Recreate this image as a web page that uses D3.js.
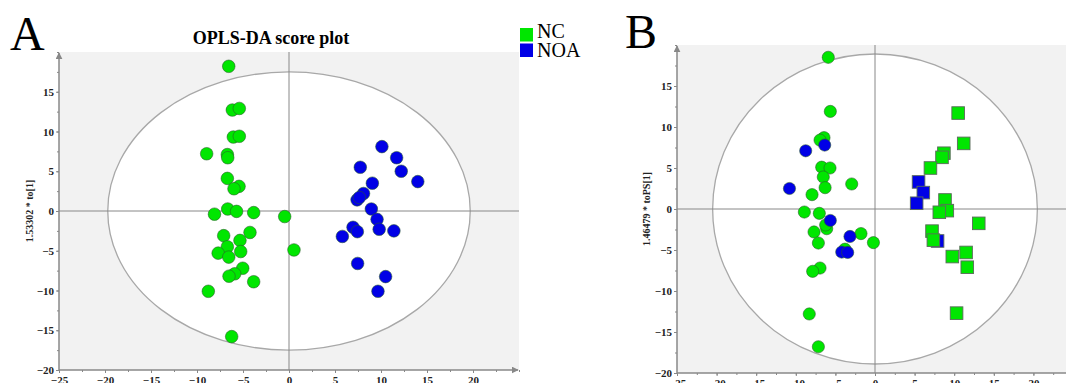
<!DOCTYPE html>
<html>
<head>
<meta charset="utf-8">
<script src="https://cdn.jsdelivr.net/npm/d3@7"></script>
<style>
  body { margin: 0; background: #fff; }
  text { font-family: "Liberation Serif", "Times New Roman", serif; }
</style>
</head>
<body>
<div id="chart"></div>
<script>

// ****************
// *     DATA     *
// ****************

// Panel A: OPLS-DA scores (x = t[1], y = to[1])
var aNcX = [-6.55, -6.16, -5.4, -6.05, -5.4, -8.95, -6.7, -6.66, -6.7, -5.43, -5.98, -6.66, -5.7, -8.1, -3.84,
            -0.47, 0.54, -7.1, -4.24, -5.33, -6.7, -7.7, -5.25, -6.55, -5.03, -5.9, -6.52, -3.84, -8.77, -6.23];
var aNcY = [18.2, 12.7, 12.9, 9.3, 9.4, 7.2, 7.1, 6.7, 4.1, 3.1, 2.8, 0.25, -0.05, -0.4, -0.2,
            -0.7, -4.9, -3.1, -2.7, -3.7, -4.5, -5.3, -5.1, -5.8, -7.2, -7.9, -8.2, -8.9, -10.1, -15.8];
var aNoaX = [10.1, 11.7, 7.75, 12.2, 14.0, 9.06, 8.1, 7.4, 7.65, 8.95, 9.57, 6.96, 7.43, 9.8, 11.4, 5.8, 7.46, 10.5, 9.67];
var aNoaY = [8.1, 6.7, 5.5, 5.0, 3.7, 3.5, 2.2, 1.4, 1.7, 0.25, -1.05, -2.05, -2.6, -2.3, -2.5, -3.2, -6.6, -8.25, -10.1];

// Panel B: scores (x = t[1], y = toPS[1]); circles and squares
var bNcCircleX = [-5.9, -5.64, -6.44, -6.94, -6.73, -5.68, -6.53, -6.3, -2.94, -7.95, -8.92, -7.03,
                  -6.1, -6.23, -7.7, -7.15, -1.77, -0.2, -3.79, -6.94, -7.87, -8.3, -7.15];
var bNcCircleY = [18.5, 11.9, 8.7, 8.4, 5.1, 5.0, 3.9, 2.6, 3.05, 1.75, -0.37, -0.53,
                  -2.4, -1.95, -2.8, -4.15, -3.0, -4.1, -4.9, -7.2, -7.6, -12.8, -16.8];
var bNoaCircleX = [-8.75, -6.35, -10.8, -5.64, -3.16, -4.2, -3.45];
var bNoaCircleY = [7.1, 7.8, 2.5, -1.4, -3.35, -5.25, -5.3];
var bNoaSquareX = [5.5, 6.1, 5.26, 7.9];
var bNoaSquareY = [3.3, 2.0, 0.7, -3.9];
var bNcSquareX = [10.5, 11.2, 8.7, 8.46, 7.0, 8.84, 9.13, 8.12, 13.1, 7.2, 7.37, 11.5, 9.76, 11.65, 10.3];
var bNcSquareY = [11.7, 8.0, 6.8, 6.3, 5.0, 1.1, -0.2, -0.4, -1.75, -2.7, -3.8, -5.3, -5.8, -7.1, -12.7];

// Tick values
var xTicks = [-25, -20, -15, -10, -5, 0, 5, 10, 15, 20];
var yTicks = [-20, -15, -10, -5, 0, 5, 10, 15];

// Legend
var groups = ["NC", "NOA"];
var groupColors = ["#00e600", "#0000e6"];

var serif = "Liberation Serif, Times New Roman, serif";


// ****************
// *   PRE-WORK   *
// ****************

var svgWidth = 1066;
var svgHeight = 383;

var svg = d3.select("#chart")
    .append("svg")
    .attr("width", svgWidth)
    .attr("height", svgHeight)
    .attr("font-family", serif);

var defs = svg.append("defs");
defs.append("marker")
    .attr("id", "arrow")
    .attr("viewBox", "0 0 10 10")
    .attr("refX", 9)
    .attr("refY", 5)
    .attr("markerWidth", 7)
    .attr("markerHeight", 7)
    .attr("markerUnits", "userSpaceOnUse")
    .attr("orient", "auto")
    .append("path")
    .attr("d", "M0,0 L10,5 L0,10 z")
    .attr("fill", "#888");


// draw one score-plot panel
function drawPanel(cfg) {
    var x = d3.scaleLinear().domain([-25, 25]).range(cfg.xRange);
    var y = d3.scaleLinear().domain([-20, 20]).range(cfg.yRange);

    var g = svg.append("g");

    // gray plot background
    g.append("rect")
        .attr("x", x(-25))
        .attr("y", y(20))
        .attr("width", Math.min(x(25), svgWidth) - x(-25))
        .attr("height", y(-20) - y(20))
        .attr("fill", "#f2f2f2");

    // Hotelling ellipse
    g.append("ellipse")
        .attr("cx", x(0))
        .attr("cy", y(0))
        .attr("rx", x(cfg.rx) - x(0))
        .attr("ry", y(0) - y(cfg.ry))
        .attr("fill", "#fff")
        .attr("stroke", "#a8a8a8")
        .attr("stroke-width", 1.3);

    // zero lines
    g.append("line")
        .attr("x1", x(-25)).attr("x2", x(25))
        .attr("y1", y(0)).attr("y2", y(0))
        .attr("stroke", "#888").attr("stroke-width", 1);
    g.append("line")
        .attr("x1", x(0)).attr("x2", x(0))
        .attr("y1", y(20)).attr("y2", y(-20))
        .attr("stroke", "#888").attr("stroke-width", 1);

    // axes (minor ticks every 2.5)
    var xAxis = d3.axisBottom(x).tickValues(xTicks).tickSize(3).tickSizeOuter(0);
    var xMinor = d3.axisBottom(x).tickValues(d3.range(-25, 25.01, 2.5)).tickSize(2).tickFormat("").tickSizeOuter(0);
    var yAxis = d3.axisLeft(y).tickValues(yTicks).tickSize(3).tickSizeOuter(0);
    var yMinor = d3.axisLeft(y).tickValues(d3.range(-20, 20.01, 2.5)).tickSize(2).tickFormat("").tickSizeOuter(0);

    [xMinor, xAxis].forEach(function(ax) {
        var a = g.append("g")
            .attr("transform", `translate(0, ${y(-20)})`)
            .call(ax)
            .attr("font-family", serif)
            .attr("font-size", 11)
            .attr("font-weight", "bold");
        a.select(".domain").remove();
        a.selectAll("line").attr("stroke", "#888");
        a.selectAll("text").attr("y", 6).attr("fill", "#222");
    });
    [yMinor, yAxis].forEach(function(ax) {
        var a = g.append("g")
            .attr("transform", `translate(${x(-25)}, 0)`)
            .call(ax)
            .attr("font-family", serif)
            .attr("font-size", 11)
            .attr("font-weight", "bold");
        a.select(".domain").remove();
        a.selectAll("line").attr("stroke", "#888");
        a.selectAll("text").attr("x", -5).attr("fill", "#222");
    });

    // axis lines with arrows
    g.append("line")
        .attr("x1", x(-25)).attr("x2", x(-25))
        .attr("y1", y(-20)).attr("y2", y(20) + 1)
        .attr("stroke", "#888").attr("stroke-width", 1.5)
        .attr("marker-end", "url(#arrow)");
    g.append("line")
        .attr("x1", x(-25)).attr("x2", x(25) - 1)
        .attr("y1", y(-20)).attr("y2", y(-20))
        .attr("stroke", "#888").attr("stroke-width", 1.5)
        .attr("marker-end", "url(#arrow)");

    // y label
    g.append("text")
        .attr("transform", `translate(${cfg.yLabelX}, ${y(0)}) rotate(-90)`)
        .attr("text-anchor", "middle")
        .attr("font-size", 10)
        .attr("font-weight", "bold")
        .attr("fill", "#222")
        .text(cfg.yLabel);

    // points
    cfg.circles.forEach(function(s) {
        g.append("g").selectAll("circle")
            .data(s.xs.map((v, i) => [v, s.ys[i]]))
            .enter().append("circle")
            .attr("cx", d => x(d[0]))
            .attr("cy", d => y(d[1]))
            .attr("r", cfg.r)
            .attr("fill", s.color)
            .attr("stroke", "#2a5a2a")
            .attr("stroke-opacity", 0.7)
            .attr("stroke-width", 0.8);
    });
    (cfg.squares || []).forEach(function(s) {
        g.append("g").selectAll("rect")
            .data(s.xs.map((v, i) => [v, s.ys[i]]))
            .enter().append("rect")
            .attr("x", d => x(d[0]) - 6.3)
            .attr("y", d => y(d[1]) - 6.3)
            .attr("width", 12.6)
            .attr("height", 12.6)
            .attr("fill", s.color)
            .attr("stroke", "#5a6a5a")
            .attr("stroke-width", 0.9);
    });
}


// ******************
// * READY TO DRAW! *
// ******************

// Panel A
drawPanel({
    xRange: [59, 519],
    yRange: [370, 52],
    rx: 19.7,
    ry: 17.5,
    r: 6.3,
    yLabelX: 33,
    yLabel: "1.53302 * to[1]",
    circles: [
        {xs: aNcX, ys: aNcY, color: groupColors[0]},
        {xs: aNoaX, ys: aNoaY, color: groupColors[1]}
    ]
});

// Panel B
drawPanel({
    xRange: [677, 1073],
    yRange: [373, 45],
    rx: 20.5,
    ry: 18.9,
    r: 6.1,
    yLabelX: 650,
    yLabel: "1.46479 * toPS[1]",
    circles: [
        {xs: bNcCircleX, ys: bNcCircleY, color: groupColors[0]},
        {xs: bNoaCircleX, ys: bNoaCircleY, color: groupColors[1]}
    ],
    squares: [
        {xs: bNoaSquareX, ys: bNoaSquareY, color: groupColors[1]},
        {xs: bNcSquareX, ys: bNcSquareY, color: groupColors[0]}
    ]
});

// Title and panel letters
svg.append("text")
    .attr("x", 271)
    .attr("y", 44)
    .attr("text-anchor", "middle")
    .attr("font-size", 18)
    .attr("font-weight", "bold")
    .text("OPLS-DA score plot");

svg.append("text").attr("x", 10).attr("y", 50).attr("font-size", 48).text("A");
svg.append("text").attr("x", 625).attr("y", 48).attr("font-size", 48).text("B");

// Legend
var legend = svg.append("g");
groups.forEach(function(name, i) {
    legend.append("rect")
        .attr("x", 520)
        .attr("y", 28 + i * 15.5)
        .attr("width", 13)
        .attr("height", 13.5)
        .attr("fill", groupColors[i]);
    legend.append("text")
        .attr("x", 537)
        .attr("y", 38 + i * 19)
        .attr("font-size", 20)
        .text(name);
});

</script>
</body>
</html>
